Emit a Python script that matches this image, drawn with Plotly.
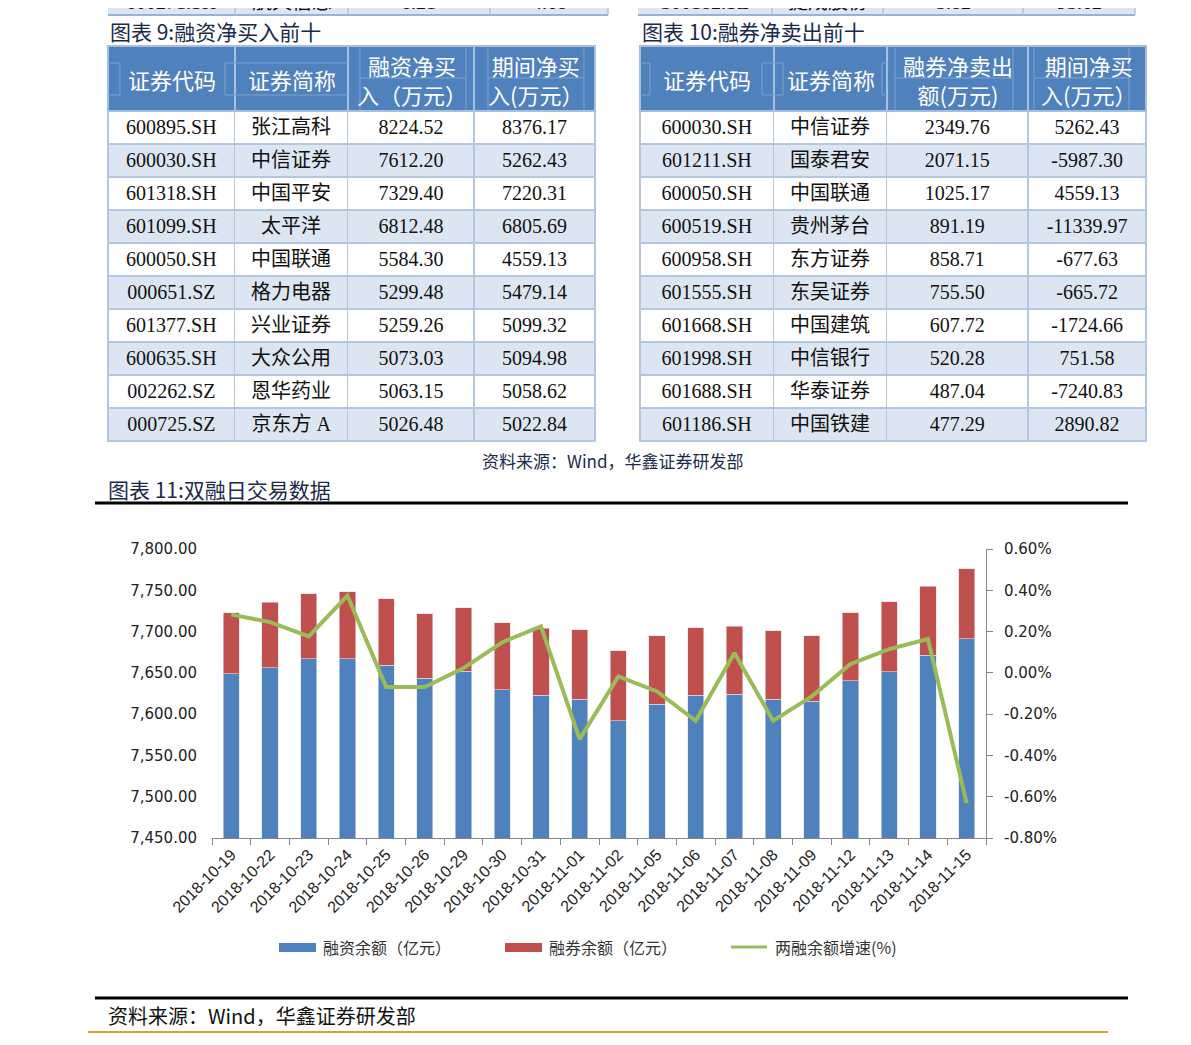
import plotly.graph_objects as go

# 页面 body 有 8px 边距, 图按参考图坐标减去 8px 排版
PAD = 8
W, H = 1191 - PAD, 1045 - PAD

# ---- 图表 9: 融资净买入前十
codes_buy = ['600895.SH', '600030.SH', '601318.SH', '601099.SH', '600050.SH',
             '000651.SZ', '601377.SH', '600635.SH', '002262.SZ', '000725.SZ']
names_buy = ['张江高科', '中信证券', '中国平安', '太平洋', '中国联通',
             '格力电器', '兴业证券', '大众公用', '恩华药业', '京东方 A']
net_buy = [8224.52, 7612.20, 7329.40, 6812.48, 5584.30, 5299.48, 5259.26, 5073.03, 5063.15, 5026.48]
period_buy = [8376.17, 5262.43, 7220.31, 6805.69, 4559.13, 5479.14, 5099.32, 5094.98, 5058.62, 5022.84]
header_buy = ['证券代码', '证券简称', '融资净买<br>入（万元）', '期间净买<br>入(万元）']

# ---- 图表 10: 融券净卖出前十
codes_sell = ['600030.SH', '601211.SH', '600050.SH', '600519.SH', '600958.SH',
              '601555.SH', '601668.SH', '601998.SH', '601688.SH', '601186.SH']
names_sell = ['中信证券', '国泰君安', '中国联通', '贵州茅台', '东方证券',
              '东吴证券', '中国建筑', '中信银行', '华泰证券', '中国铁建']
net_sell = [2349.76, 2071.15, 1025.17, 891.19, 858.71, 755.50, 607.72, 520.28, 487.04, 477.29]
period_sell = [5262.43, -5987.30, 4559.13, -11339.97, -677.63, -665.72, -1724.66, 751.58, -7240.83, 2890.82]
header_sell = ['证券代码', '证券简称', '融券净卖出<br>额(万元)', '期间净买<br>入(万元）']

# 上一页表格被截断的最后一行
prev_row_left = ['600271.SH', '航天信息', '6.21', '4.68']
prev_row_right = ['300182.SZ', '捷成股份', '3.82', '93.62']

# ---- 图表 11: 双融日交易数据
dates = ['2018-10-19', '2018-10-22', '2018-10-23', '2018-10-24', '2018-10-25',
         '2018-10-26', '2018-10-29', '2018-10-30', '2018-10-31', '2018-11-01',
         '2018-11-02', '2018-11-05', '2018-11-06', '2018-11-07', '2018-11-08',
         '2018-11-09', '2018-11-12', '2018-11-13', '2018-11-14', '2018-11-15']
rz_balance = [7649.1, 7655.9, 7667.2, 7667.2, 7659.2, 7643.5, 7651.9, 7629.8, 7622.6, 7618.3,
              7592.0, 7611.7, 7622.6, 7624.2, 7618.1, 7615.4, 7640.7, 7651.6, 7671.6, 7691.4]
rq_balance = [73.7, 79.7, 78.5, 81.3, 80.8, 78.0, 76.9, 80.9, 81.2, 83.9,
              84.9, 83.3, 82.1, 82.0, 82.9, 79.6, 82.4, 84.4, 83.3, 84.8]
growth = [0.282, 0.246, 0.177, 0.374, -0.069, -0.069, 0.023, 0.148, 0.225, -0.321,
          -0.017, -0.090, -0.232, 0.096, -0.232, -0.114, 0.043, 0.115, 0.164, -0.631]
growth_ticks = [0.6, 0.4, 0.2, 0.0, -0.2, -0.4, -0.6, -0.8]
growth_labels = ['0.60%', '0.40%', '0.20%', '0.00%', '-0.20%', '-0.40%', '-0.60%', '-0.80%']
legend_names = ['融资余额（亿元）', '融券余额（亿元）', '两融余额增速(%)']

BLUE = '#4F81BD'
RED = '#C0504D'
GREEN = '#9BBB59'
NAVY = '#1b2a4a'
ROW_ALT = '#DCE6F2'
INNER = '#7FA2CF'
CJK = 'Noto Sans CJK SC'
SERIF = 'Liberation Serif, Noto Sans CJK SC'


def fx(x):
    return (x - PAD) / W


def fy(y):
    return 1 - (y - PAD) / H


def make_table(cols, x0, x1, widths):
    n = len(cols[0])
    fills = [['white' if i % 2 == 0 else ROW_ALT for i in range(n)] for _ in cols]
    # 表头文字用注释写, 表格只画表头底色
    return go.Table(
        domain=dict(x=[fx(x0), fx(x1)], y=[fy(452), fy(46)]),
        columnwidth=widths,
        header=dict(values=[''] * len(cols), height=65, fill_color=BLUE,
                    line=dict(color='#A7BFDE', width=2)),
        cells=dict(values=cols, format=['', '', '.2f', '.2f'], height=33, fill_color=fills,
                   line=dict(color='#B3C7E0', width=1.5), align='center',
                   font=dict(family=SERIF, size=20, color='#111111')),
    )


fig = go.Figure()
fig.add_trace(make_table([codes_buy, names_buy, net_buy, period_buy], 108, 596, [127, 113, 127, 121]))
fig.add_trace(make_table([codes_sell, names_sell, net_sell, period_sell], 640, 1147, [134, 113, 142, 118]))

fig.add_trace(go.Bar(x=dates, y=rz_balance, name=legend_names[0],
                     marker=dict(color=BLUE, line=dict(color='#d9e2ef', width=0.6))))
fig.add_trace(go.Bar(x=dates, y=rq_balance, name=legend_names[1],
                     marker=dict(color=RED, line=dict(color='#efd9d9', width=0.6))))
fig.add_trace(go.Scatter(x=dates, y=growth, name=legend_names[2], yaxis='y2', mode='lines',
                         line=dict(color=GREEN, width=4)))

shapes = []
annotations = []


def line(x0, y0, x1, y1, color, width):
    shapes.append(dict(type='line', xref='paper', yref='paper', x0=fx(x0), x1=fx(x1),
                       y0=fy(y0), y1=fy(y1), line=dict(color=color, width=width)))


def text(x, y, s, size, color, family=CJK, xanchor='left'):
    annotations.append(dict(xref='paper', yref='paper', x=fx(x), y=fy(y), text=s, showarrow=False,
                            xanchor=xanchor, yanchor='middle',
                            font=dict(family=family, size=size, color=color)))


# 截断的上一行
for x0, x1, edges, vals in [(108, 608, [235, 348, 490], prev_row_left),
                            (638, 1135, [772, 883, 1023], prev_row_right)]:
    shapes.append(dict(type='rect', xref='paper', yref='paper', x0=fx(x0), x1=fx(x1),
                       y0=fy(15), y1=1.02, fillcolor=ROW_ALT, line=dict(width=0)))
    line(x0, 15, x1, 15, '#95B3D7', 2)
    bounds = [x0] + edges + [x1]
    for e in edges + [x1]:
        line(e, 0, e, 15, '#C0C0C0', 1.5)
    for i, v in enumerate(vals):
        text((bounds[i] + bounds[i + 1]) / 2, 2, v, 20, '#111111', SERIF, 'center')

# 表头里合并单元格留下的浅色细线
for xa, xb in [(108, 120), (225, 235), (235, 348), (640, 650), (762, 774), (774, 783), (882, 887)]:
    line(xa, 63, xb, 63, INNER, 1)
    line(xa, 95, xb, 95, INNER, 1)
for xv in [120, 225, 650, 762, 783, 882]:
    line(xv, 63, xv, 95, INNER, 1)
for xa, xb in [(360, 466), (488, 584), (895, 1013), (1034, 1129)]:
    line(xa, 48, xa, 110, INNER, 1)
    line(xb, 48, xb, 110, INNER, 1)
    line(xa, 78, xb, 78, INNER, 1)

# 标题和表头文字
text(108, 31, '图表 9:融资净买入前十', 21, NAVY)
text(640, 31, '图表 10:融券净卖出前十', 21, NAVY)
for cx, s in zip([171.5, 291.5, 412, 535.5], header_buy):
    text(cx, 79.5, s, 22, 'white', CJK, 'center')
for cx, s in zip([707, 830.5, 958, 1088], header_sell):
    text(cx, 79.5, s, 22, 'white', CJK, 'center')

text(613, 460, '资料来源：Wind，华鑫证券研发部', 17, NAVY, CJK, 'center')
text(106, 489, '图表 11:双融日交易数据', 21, NAVY)
line(95, 503, 1128, 503, 'black', 3)

# 图例
for (x0, kind, color), name in zip([(279, 'bar', BLUE), (505, 'bar', RED), (731, 'line', GREEN)],
                                   legend_names):
    if kind == 'bar':
        shapes.append(dict(type='rect', xref='paper', yref='paper', x0=fx(x0), x1=fx(x0 + 37),
                           y0=fy(952), y1=fy(943), fillcolor=color, line=dict(width=0)))
    else:
        line(x0, 947, x0 + 36, 947, color, 3)
    text(x0 + 42, 947, name, 16, '#333333')

line(95, 998, 1128, 998, 'black', 3)
text(106, 1015, '资料来源：Wind，华鑫证券研发部', 20, '#111111')
line(88, 1032, 1108, 1032, '#E0A030', 2)

fig.update_layout(
    width=W, height=H, margin=dict(l=0, r=0, t=0, b=0, autoexpand=False),
    paper_bgcolor='white', plot_bgcolor='white',
    barmode='stack', bargap=0.58, showlegend=False,
    shapes=shapes, annotations=annotations,
    xaxis=dict(domain=[fx(212), fx(986)], anchor='y', type='category', showline=True,
               linecolor='#868686', ticks='outside', ticklen=6, tickcolor='#868686',
               tickson='boundaries', tickangle=-45, showgrid=False, automargin=False,
               tickfont=dict(family='Liberation Sans', size=16, color='#222222')),
    yaxis=dict(domain=[fy(838), fy(549)], range=[7450, 7800], dtick=50, tickformat=',.2f',
               showgrid=False, zeroline=False, showline=False, ticks='', ticklabelstandoff=14,
               automargin=False, tickfont=dict(family='DejaVu Sans', size=15, color='#222222')),
    yaxis2=dict(overlaying='y', side='right', anchor='x', range=[-0.8, 0.6],
                tickvals=growth_ticks, ticktext=growth_labels, showline=True,
                linecolor='#868686', ticks='outside', ticklen=6, tickcolor='#868686',
                showgrid=False, zeroline=False, ticklabelstandoff=8, automargin=False,
                tickfont=dict(family='DejaVu Sans', size=15, color='#222222')),
)

fig.write_html("out.html")
